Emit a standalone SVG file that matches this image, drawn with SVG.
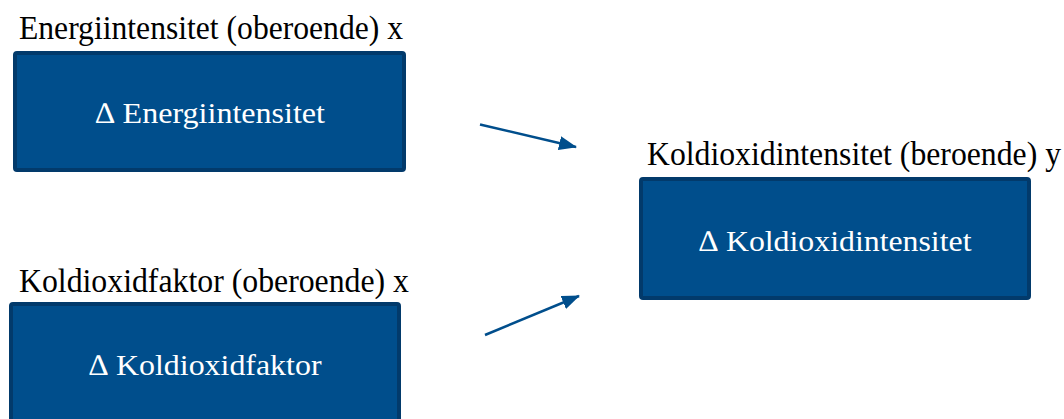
<svg xmlns="http://www.w3.org/2000/svg" width="1064" height="419" viewBox="0 0 1064 419">
  <style>
    .box { fill: #004e8c; stroke: #023a6b; stroke-width: 4; }
    .conn { stroke: #004e8c; stroke-width: 2.5; fill: none; }
  </style>
  <defs>
    <marker id="head" viewBox="0 0 18 14" refX="17" refY="7" markerWidth="18" markerHeight="14" markerUnits="userSpaceOnUse" orient="auto">
      <path d="M0,0 L18,7 L0,14 z" fill="#004e8c"/>
    </marker>
  </defs>

  <g id="energiintensitet">
    <text x="19" y="39" font-family="Liberation Serif, serif" font-size="34" fill="#000" textLength="384" lengthAdjust="spacingAndGlyphs">Energiintensitet (oberoende) x</text>
    <rect class="box" x="15" y="53" width="389" height="117" rx="2"/>
    <text x="210" y="123" font-family="Liberation Serif, serif" font-size="30" fill="#fff" text-anchor="middle" textLength="230" lengthAdjust="spacingAndGlyphs">∆ Energiintensitet</text>
  </g>

  <g id="koldioxidfaktor">
    <text x="19" y="292" font-family="Liberation Serif, serif" font-size="34" fill="#000" textLength="390" lengthAdjust="spacingAndGlyphs">Koldioxidfaktor (oberoende) x</text>
    <rect class="box" x="11" y="304" width="388" height="130" rx="2"/>
    <text x="205" y="375" font-family="Liberation Serif, serif" font-size="30" fill="#fff" text-anchor="middle" textLength="233" lengthAdjust="spacingAndGlyphs">∆ Koldioxidfaktor</text>
  </g>

  <g id="koldioxidintensitet">
    <text x="647" y="165" font-family="Liberation Serif, serif" font-size="34" fill="#000" textLength="414" lengthAdjust="spacingAndGlyphs">Koldioxidintensitet (beroende) y</text>
    <rect class="box" x="641" y="179" width="388" height="119" rx="2"/>
    <text x="835" y="251" font-family="Liberation Serif, serif" font-size="30" fill="#fff" text-anchor="middle" textLength="273" lengthAdjust="spacingAndGlyphs">∆ Koldioxidintensitet</text>
  </g>

  <g id="connectors">
    <line class="conn" x1="480" y1="124.5" x2="576" y2="147" marker-end="url(#head)"/>
    <line class="conn" x1="485" y1="335" x2="579" y2="296" marker-end="url(#head)"/>
  </g>
</svg>
